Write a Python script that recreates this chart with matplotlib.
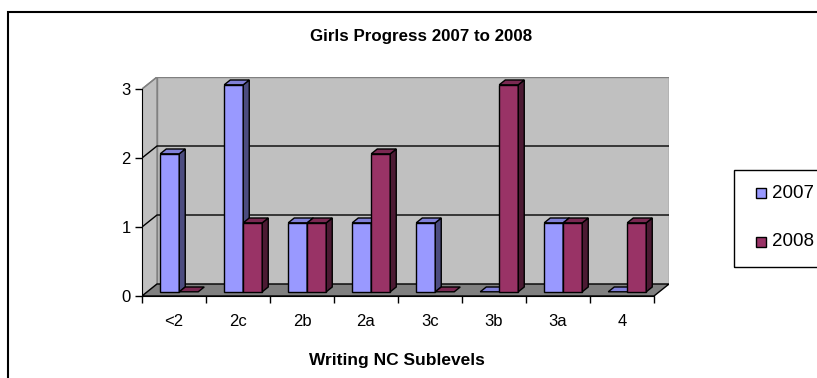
import matplotlib.pyplot as plt
from matplotlib.patches import Polygon, Rectangle

plt.rcParams['font.family'] = ['Liberation Sans', 'DejaVu Sans']

# data
levels = ['<2', '2c', '2b', '2a', '3c', '3b', '3a', '4']
girls_2007 = [2, 3, 1, 1, 1, 0, 1, 0]
girls_2008 = [0, 1, 1, 2, 0, 3, 1, 1]
series_names = ['2007', '2008']

# face colours: front, top, side
colours = [('#9999FF', '#8080D8', '#4C4C80'),
           ('#993366', '#7A2952', '#4C1A33')]

W, H = 817, 378
fig = plt.figure(figsize=(W / 100, H / 100), dpi=100)


def px(x, y):
    return x / W, 1 - y / H


# oblique depth of the box in data units
ddx = 15 / 64
ddy = 12 / 69
ymax = 3

ax_left, ax_top, ax_right, ax_bot = 142, 77, 669, 296
ax = fig.add_axes([ax_left / W, 1 - ax_bot / H,
                   (ax_right - ax_left) / W, (ax_bot - ax_top) / H])
ax.set_xlim(-0.5, 7.5 + ddx)
ax.set_ylim(0, ymax + ddy)
ax.patch.set_visible(False)

x0, x1 = -0.5, len(levels) - 0.5

# walls and floor
ax.add_patch(Polygon([(x0 + ddx, ddy), (x1 + ddx, ddy), (x1 + ddx, ymax + ddy),
                      (x0 + ddx, ymax + ddy)], closed=True, fc='#C0C0C0',
                     ec='#808080', lw=1, zorder=1))
ax.add_patch(Polygon([(x0, 0), (x0 + ddx, ddy), (x0 + ddx, ymax + ddy), (x0, ymax)],
                     closed=True, fc='#C0C0C0', ec='#808080', lw=1, zorder=1))
ax.add_patch(Polygon([(x0, 0), (x1, 0), (x1 + ddx, ddy), (x0 + ddx, ddy)],
                     closed=True, fc='#808080', ec='black', lw=1, zorder=1))

# gridlines on back and side wall
for g in [1, 2]:
    ax.plot([x0, x0 + ddx, x1 + ddx], [g, g + ddy, g + ddy], color='black', lw=1, zorder=2)
ax.plot([x0, x0 + ddx], [ymax, ymax + ddy], color='#808080', lw=1, zorder=2)

# bars
w = 19 / 64
f0, f1 = 0.35, 0.75
bx, by = f0 * ddx, f0 * ddy
dx, dy = (f1 - f0) * ddx, (f1 - f0) * ddy
z = 3
for i in range(len(levels)):
    for j, vals in enumerate([girls_2007, girls_2008]):
        v = vals[i]
        front, top, side = colours[j]
        left = i + bx + (j - 1) * w
        base = by
        if v > 0:
            ax.bar(left, v, width=w, bottom=base, align='edge', color=front,
                   edgecolor='black', lw=1, zorder=z)
            ax.add_patch(Polygon([(left + w, base), (left + w + dx, base + dy),
                                  (left + w + dx, base + v + dy), (left + w, base + v)],
                                 closed=True, fc=side, ec='black', lw=1, zorder=z))
        ax.add_patch(Polygon([(left, base + v), (left + w, base + v),
                              (left + w + dx, base + v + dy), (left + dx, base + v + dy)],
                             closed=True, fc=top, ec='black', lw=1, zorder=z))
        z += 1

# axes
for s in ['top', 'right']:
    ax.spines[s].set_visible(False)
ax.spines['left'].set_bounds(0, ymax)
ax.spines['bottom'].set_bounds(x0, x1)
ax.spines['left'].set_zorder(20)
ax.spines['bottom'].set_zorder(20)
ax.set_yticks(range(ymax + 1))
ax.tick_params(axis='y', direction='out', length=5, width=1, labelsize=12, pad=3)
ax.set_xticks([k - 0.5 for k in range(len(levels) + 1)])
ax.set_xticklabels([])
ax.set_xticks(range(len(levels)), minor=True)
ax.set_xticklabels(levels, minor=True)
ax.tick_params(axis='x', which='major', direction='out', length=5, width=1)
ax.tick_params(axis='x', which='minor', length=0, labelsize=12, pad=13)

fig.text(*px(397, 360), 'Writing NC Sublevels', ha='center', va='center',
         fontsize=12.5, fontweight='bold')
fig.text(*px(421, 36), 'Girls Progress 2007 to 2008', ha='center', va='center',
         fontsize=12.2, fontweight='bold')

# chart border
fig.patches.append(Rectangle(px(8, 400), 830 / W, (400 - 12) / H, transform=fig.transFigure,
                             fill=False, ec='black', lw=1.5))

# legend box
fig.patches.append(Rectangle(px(734, 267), 100 / W, (267 - 170) / H, transform=fig.transFigure,
                             fill=False, ec='black', lw=1))
for k, name in enumerate(series_names):
    yy = 193 + k * 49
    fig.patches.append(Rectangle(px(756, yy + 5), 10 / W, 10 / H, transform=fig.transFigure,
                                 fc=colours[k][0], ec='black', lw=1))
    fig.text(*px(772, yy), name, ha='left', va='center', fontsize=13.5)

fig.savefig('out.png', dpi=100, facecolor='white')
